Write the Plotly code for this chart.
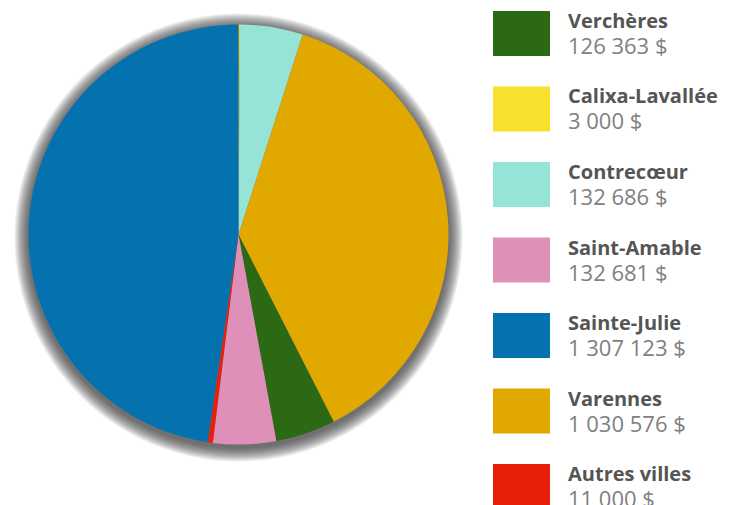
import plotly.graph_objects as go

# legend order (as listed at right)
villes = ["Verchères", "Calixa-Lavallée", "Contrecœur", "Saint-Amable",
          "Sainte-Julie", "Varennes", "Autres villes"]
montants = [126363, 3000, 132686, 132681, 1307123, 1030576, 11000]
couleurs = ["#2c6915", "#f7e12c", "#96e4d8", "#de90b9",
            "#0572b0", "#e1a900", "#e8200b"]

# order of the slices, clockwise from 12 o'clock
ordre_pie = ["Calixa-Lavallée", "Contrecœur", "Varennes", "Verchères",
             "Saint-Amable", "Autres villes", "Sainte-Julie"]

W, H = 735, 505
CX, CY, R = 238.5, 234.5, 210


def fmt(v):
    return f"{v:,}".replace(",", " ") + " $"


idx = [villes.index(n) for n in ordre_pie]

fig = go.Figure(go.Pie(
    labels=[villes[i] for i in idx],
    values=[montants[i] for i in idx],
    marker=dict(colors=[couleurs[i] for i in idx], line=dict(width=0)),
    sort=False,
    direction="clockwise",
    rotation=0,
    textinfo="none",
    hoverinfo="label+value",
    showlegend=False,
    domain=dict(x=[(CX - R) / W, (CX + R) / W],
                y=[(H - CY - R) / H, (H - CY + R) / H]),
))

shapes = []
# soft shadow around the pie
for k in range(14, 0, -1):
    r = R + k
    sy = CY + 3
    shapes.append(dict(
        type="circle", xref="paper", yref="paper", layer="below",
        x0=(CX - r) / W, x1=(CX + r) / W,
        y0=1 - (sy + r) / H, y1=1 - (sy - r) / H,
        fillcolor="#333333", opacity=0.08, line=dict(width=0),
    ))

annotations = []
TOP0, STEP = 11, 75.5
for i, (nom, val, col) in enumerate(zip(villes, montants, couleurs)):
    top = TOP0 + i * STEP
    shapes.append(dict(
        type="rect", xref="paper", yref="paper",
        x0=493 / W, x1=550 / W, y0=1 - (top + 45) / H, y1=1 - top / H,
        fillcolor=col, line=dict(width=0),
    ))
    annotations.append(dict(
        text=(f"<b>{nom}</b><br>"
              f"<span style='font-size:22px;color:#808080'>{fmt(val)}</span>"),
        xref="paper", yref="paper",
        x=566 / W, y=1 - (top + 22.5) / H, xanchor="left", yanchor="middle",
        align="left", showarrow=False,
        font=dict(family="Open Sans", size=20, color="#555555"),
    ))

fig.update_layout(
    width=W, height=H,
    margin=dict(l=0, r=0, t=0, b=0),
    paper_bgcolor="white",
    plot_bgcolor="white",
    shapes=shapes,
    annotations=annotations,
)

fig.write_html("out.html", config={"displayModeBar": False},
               post_script="document.body.style.margin='0';")
